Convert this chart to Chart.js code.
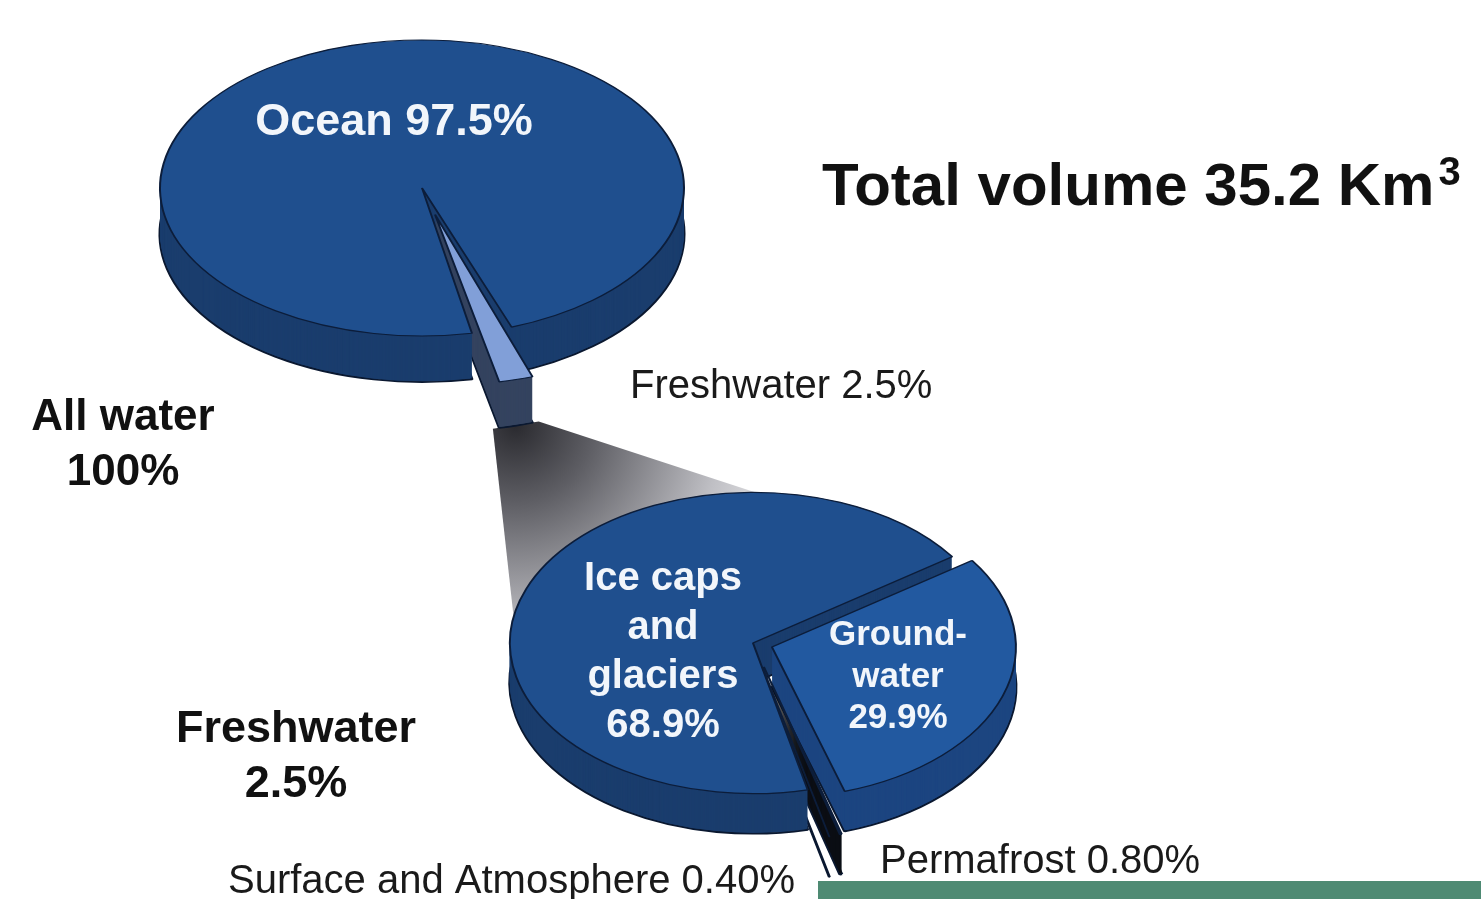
<!DOCTYPE html>
<html>
<head>
<meta charset="utf-8">
<script src="https://cdn.jsdelivr.net/npm/chart.js@4.4.0/dist/chart.umd.min.js"></script>
<style>
  html, body { margin: 0; padding: 0; background: #fff; width: 1481px; height: 899px; overflow: hidden; }
  canvas { position: absolute; left: 0; top: 0; }
  #strip { position: absolute; left: 818px; top: 881px; width: 663px; height: 18px; background: #4e8a73; }
</style>
</head>
<body>
<canvas id="fresh" width="1481" height="899"></canvas>
<canvas id="all" width="1481" height="899"></canvas>
<div id="strip"></div>
<script>
// data
const allLabels = ['Ocean', 'Freshwater'];
const allValues = [97.5, 2.5];
const freshLabels = ['Ice caps and glaciers', 'Groundwater', 'Permafrost', 'Surface and Atmosphere'];
const freshValues = [68.9, 29.9, 0.8, 0.4];
const totalVolume = 35.2;

function pct(v) { return (v < 1 ? v.toFixed(2) : v.toFixed(1)) + '%'; }

// look of the two 3d pies
const allStyle = { cx: 422, cy: 188, r: 262, tilt: 0.565, depth: 46, rotation: 169,
  top: ['#1f4f8e', '#819fd8'], side: ['#1a3d6d', '#34435f'], offset: [0, 195] };
const freshStyle = { cx: 753, cy: 643, r: 243, tilt: 0.62, depth: 40, rotation: 167,
  top: ['#1f4f8e', '#2259a0', '#9fb6e0', '#dfe6f2'], side: ['#1a3d6d', '#1c4580', '#0b0e14', '#161b24'],
  offset: [0, 80, 160, 160] };

const W = 1481, H = 899;

// squash the round pie into an ellipse and extrude it downwards
function make3d(st) {
  return {
    id: 'pie3d',
    beforeDatasetsDraw(chart) {
      const ctx = chart.ctx;
      const arcs = chart.getDatasetMeta(0).data;
      const cy = arcs[0].y;
      ctx.save();
      ctx.translate(0, cy); ctx.scale(1, st.tilt); ctx.translate(0, -cy);
      for (let d = st.depth; d >= 1; d--) {
        ctx.save();
        ctx.translate(0, d / st.tilt);
        arcs.forEach((arc, i) => {
          const g = Object.create(arc);
          g.options = Object.assign({}, arc.options, {
            backgroundColor: st.side[i],
            borderColor: '#0a1830',
            borderWidth: d === st.depth ? 3 : 0
          });
          g.draw(ctx);
        });
        ctx.restore();
      }
    },
    afterDatasetsDraw(chart) { chart.ctx.restore(); }
  };
}

function txt(ctx, s, x, y, size, bold, color, align) {
  ctx.font = (bold ? 'bold ' : '') + size + 'px "Liberation Sans", Arial, sans-serif';
  ctx.fillStyle = color;
  ctx.textAlign = align || 'left';
  ctx.textBaseline = 'alphabetic';
  ctx.fillText(s, x, y);
}

function pieConfig(st, labels, values, extraPlugins) {
  return {
    type: 'pie',
    data: {
      labels: labels,
      datasets: [{
        data: values,
        backgroundColor: st.top,
        borderColor: '#0c1d3a',
        borderWidth: 2,
        offset: st.offset,
        radius: st.r,
        rotation: st.rotation,
        clip: false
      }]
    },
    options: {
      responsive: false,
      devicePixelRatio: 1,
      animation: false,
      events: [],
      layout: { padding: { left: st.cx - 100, right: W - st.cx - 100, top: st.cy - 100, bottom: H - st.cy - 100 } },
      plugins: { legend: { display: false }, tooltip: { enabled: false } }
    },
    plugins: extraPlugins
  };
}

const allText = {
  id: 'allText',
  afterDraw(chart) {
    const ctx = chart.ctx;
    txt(ctx, allLabels[0] + ' ' + pct(allValues[0]), 394, 135, 45, true, '#f2f6fb', 'center');
    txt(ctx, allLabels[1] + ' ' + pct(allValues[1]), 630, 398, 40, false, '#1a1a1a');
    txt(ctx, 'All water', 123, 430, 44, true, '#111', 'center');
    txt(ctx, '100%', 123, 485, 44, true, '#111', 'center');
    const t = 'Total volume ' + totalVolume + ' Km';
    txt(ctx, t, 822, 205, 60, true, '#111');
    const w = ctx.measureText(t).width;
    txt(ctx, '3', 822 + w + 4, 185, 40, true, '#111');
  }
};

const allChart = new Chart(document.getElementById('all'),
  pieConfig(allStyle, allLabels, allValues, [make3d(allStyle), allText]));

// grey funnel from the freshwater wedge down to the second pie
const funnel = {
  id: 'funnel',
  beforeDatasetsDraw(chart) {
    const ctx = chart.ctx;
    const w = allChart.getDatasetMeta(0).data[1];
    const off = (w.options.offset || 0) / 4;
    const mid = (w.startAngle + w.endAngle) / 2;
    const fix = 1 - Math.sin(Math.min(Math.PI, w.circumference));
    const R = w.outerRadius + off * fix;
    const ax = w.x + Math.cos(mid) * off, ay = w.y + Math.sin(mid) * off;
    const sp = a => [ax + Math.cos(a) * R, w.y + (ay + Math.sin(a) * R - w.y) * allStyle.tilt + allStyle.depth];
    const p1 = sp(w.startAngle), p2 = sp(w.endAngle);
    const b = chart.getDatasetMeta(0).data[0];
    const bp = a => [b.x + Math.cos(a) * b.outerRadius, b.y + Math.sin(a) * b.outerRadius * freshStyle.tilt];
    const p3 = bp(b.endAngle), p4 = bp(Math.PI * 1.055);
    const gx = (p1[0] + p2[0]) / 2, gy = (p1[1] + p2[1]) / 2;
    const grad = ctx.createRadialGradient(gx, gy, 0, gx, gy, 430);
    grad.addColorStop(0, '#2a2a2f');
    grad.addColorStop(0.18, '#5e5e64');
    grad.addColorStop(0.48, '#c0c0c5');
    grad.addColorStop(0.75, '#ffffff');
    ctx.save();
    ctx.beginPath();
    ctx.moveTo(p2[0], p2[1]);
    ctx.lineTo(p1[0], p1[1]);
    ctx.lineTo(p3[0], p3[1]);
    ctx.lineTo(p4[0], p4[1]);
    ctx.closePath();
    ctx.fillStyle = grad;
    ctx.fill();
    ctx.restore();
  }
};

const freshText = {
  id: 'freshText',
  afterDraw(chart) {
    const ctx = chart.ctx;
    const white = '#f2f6fb';
    ['Ice caps', 'and', 'glaciers', pct(freshValues[0])].forEach((s, i) =>
      txt(ctx, s, 663, 590 + i * 49, 40, true, white, 'center'));
    ['Ground-', 'water', pct(freshValues[1])].forEach((s, i) =>
      txt(ctx, s, 898, 645 + i * 41.5, 35, true, white, 'center'));
    txt(ctx, 'Freshwater', 296, 742, 45, true, '#111', 'center');
    txt(ctx, pct(allValues[1]), 296, 797, 45, true, '#111', 'center');
    txt(ctx, freshLabels[3] + ' ' + pct(freshValues[3]), 228, 893, 40, false, '#1a1a1a');
    txt(ctx, freshLabels[2] + ' ' + pct(freshValues[2]), 880, 873, 40, false, '#1a1a1a');
  }
};

const freshChart = new Chart(document.getElementById('fresh'),
  pieConfig(freshStyle, freshLabels, freshValues, [funnel, make3d(freshStyle), freshText]));
</script>
</body>
</html>
